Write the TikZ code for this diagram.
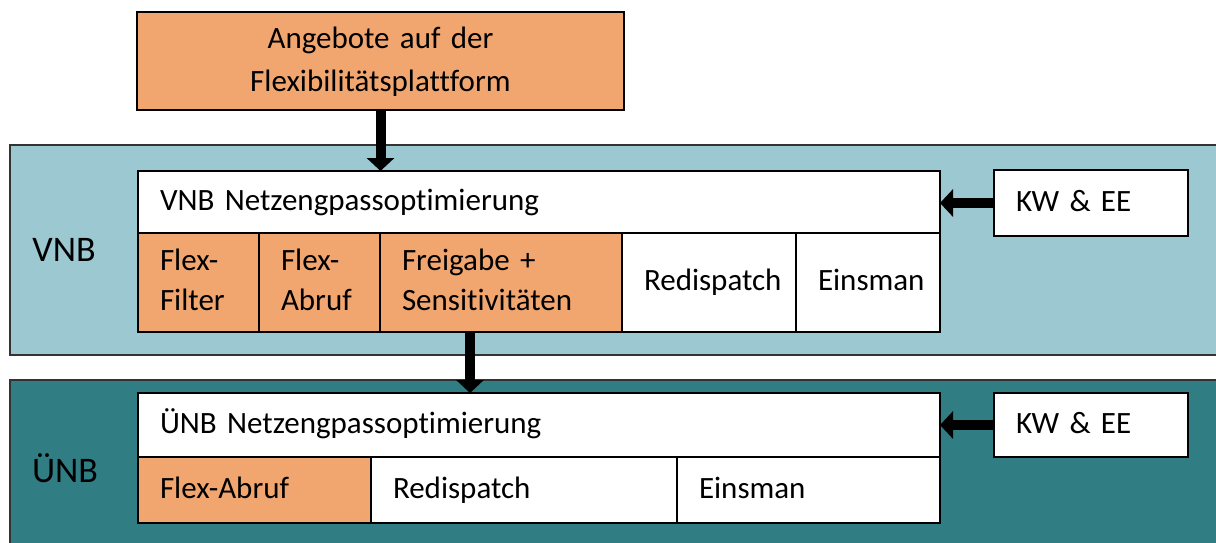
\documentclass[tikz,border=0pt]{standalone}
\usepackage{fontspec}
\setmainfont[Ligatures=NoCommon]{Carlito}
\usetikzlibrary{arrows.meta,positioning}
\definecolor{boxorange}{RGB}{241,166,112}
\definecolor{bandlight}{RGB}{155,200,209}
\definecolor{banddark}{RGB}{49,125,132}

\begin{document}
\begin{tikzpicture}[x=0.5pt, y=-0.5pt,
          cell/.style={draw, line width=1.3pt, outer sep=0pt,
                       inner xsep=11pt, inner ysep=0pt, align=left,
                       anchor=north west,
                       execute at begin node=\strut,
                       execute at end node=\strut,
                       font=\fontsize{15.5pt}{20pt}\selectfont},
          band/.style={draw=black!80, line width=1pt},
          bandlabel/.style={font=\fontsize{18pt}{20pt}\selectfont},
          blockarrow/.style={line width=5pt,
                             -{Triangle[width=13.5pt, length=6.5pt]}}]
        \useasboundingbox (0,0) rectangle (1216,542);
        % the two levels as bands
        \draw[band, fill=bandlight] (10,145) rectangle (1230,355);
        \draw[band, fill=banddark] (10,380) rectangle (1230,560);
        \node[bandlabel] (vnblbl) at (64,250) {VNB};
        \node[bandlabel] (unblbl) at (65,468) {ÜNB};
        % offers on the platform
        \node[cell, fill=boxorange, align=center, text width=221.5pt,
              minimum height=49pt, font=\fontsize{15.5pt}{21.5pt}\selectfont]
              (offer) at (137,12) {Angebote auf der\\Flexibilitätsplattform};
        % VNB level
        \node[cell, fill=white, text width=379pt, minimum height=31pt]
              (vnbopt) at (138,171) {VNB Netzengpassoptimierung};
        \node[cell, fill=boxorange, text width=38.5pt, minimum height=49.5pt]
              (vflt) at (vnbopt.south west) {Flex-\\Filter};
        \node[cell, fill=boxorange, text width=38.5pt, minimum height=49.5pt,
              right=0pt of vflt] (vabr) {Flex-\\Abruf};
        \node[cell, fill=boxorange, text width=99pt, minimum height=49.5pt,
              right=0pt of vabr] (vfrg) {Freigabe +\\Sensitivitäten};
        \node[cell, fill=white, align=center, text width=65pt,
              minimum height=49.5pt, right=0pt of vfrg] (vrd) {Redispatch};
        \node[cell, fill=white, align=center, text width=50pt,
              minimum height=49.5pt, right=0pt of vrd] (vem) {Einsman};
        \node[cell, fill=white, text width=75pt, minimum height=33pt]
              (vkw) at (994,170) {KW \& EE};
        % ÜNB level
        \node[cell, fill=white, text width=379pt, minimum height=32pt]
              (unbopt) at (138,393) {ÜNB Netzengpassoptimierung};
        \node[cell, fill=boxorange, text width=94.5pt, minimum height=33pt]
              (uabr) at (unbopt.south west) {Flex-Abruf};
        \node[cell, fill=white, text width=131pt, minimum height=33pt,
              right=0pt of uabr] (urd) {Redispatch};
        \node[cell, fill=white, text width=109.5pt, minimum height=33pt,
              right=0pt of urd] (uem) {Einsman};
        \node[cell, fill=white, text width=75pt, minimum height=32pt]
              (ukw) at (994,393) {KW \& EE};
        % flows
        \draw[blockarrow] (offer.south) -- (offer.south |- vnbopt.north);
        \draw[blockarrow] (vkw.west) -- (vkw.west -| vnbopt.east);
        \draw[blockarrow] ([xshift=45pt]vfrg.south west)
              -- ([xshift=45pt]vfrg.south west |- unbopt.north);
        \draw[blockarrow] (ukw.west) -- (ukw.west -| unbopt.east);
      \end{tikzpicture}
\end{document}
